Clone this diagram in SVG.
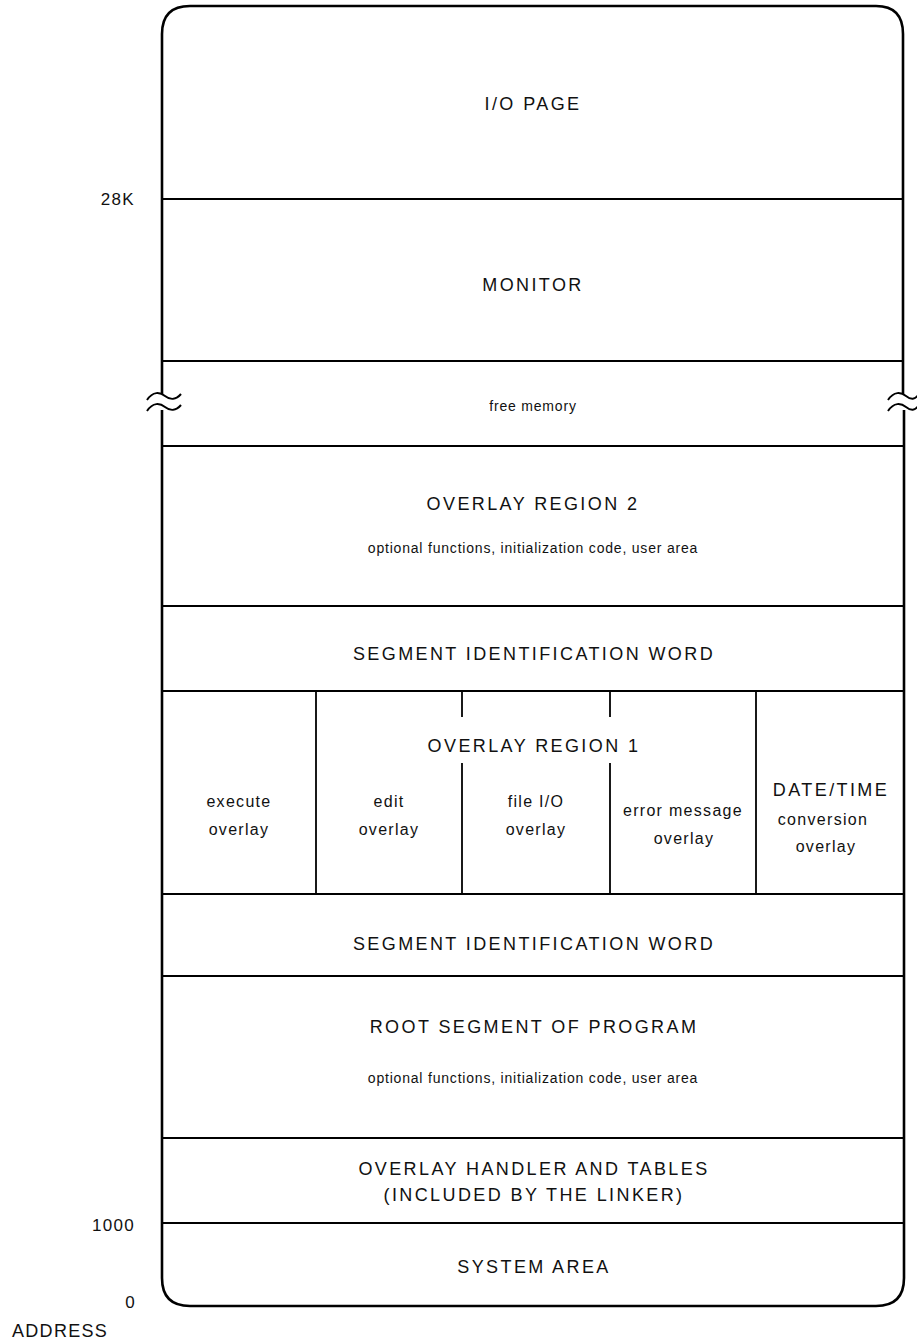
<svg xmlns="http://www.w3.org/2000/svg" width="917" height="1342" viewBox="0 0 917 1342">
<style>
.frame{fill:none;stroke:#000;stroke-width:2.6}
.ln{fill:none;stroke:#000;stroke-width:1.8}
.brk{fill:none;stroke:#000;stroke-width:2}
text{font-family:"Liberation Sans",Arial,sans-serif;fill:#111;text-anchor:middle}
.cap{font-size:18px;letter-spacing:2.4px}
.sm{font-size:14px;letter-spacing:0.8px}
.cell{font-size:16px;letter-spacing:1.3px}
.lab{font-size:17px;letter-spacing:1.3px;text-anchor:end}
</style>
<rect width="917" height="1342" fill="#fff"/>
<g id="frame">
<path class="frame" d="M162,394 V34 Q162,6 190,6 H876 Q903,6 903,34 V394"/>
<path class="frame" d="M904,410 V1278 Q904,1306 876,1306 H190 Q162,1306 162,1278 V410"/>
<path class="brk" d="M147,400 C153,391 160,392 165,396 C170,400 176,400 181,394"/>
<path class="brk" d="M147,411 C153,402 160,403 165,407 C170,411 176,411 181,405"/>
<path class="brk" d="M888,400 C894,391 901,392 906,396 C911,400 915,400 919,394"/>
<path class="brk" d="M888,411 C894,402 901,403 906,407 C911,411 915,411 919,405"/>
</g>
<g id="connectors">
<line class="ln" x1="162" y1="199" x2="903" y2="199"/>
<line class="ln" x1="162" y1="361" x2="903" y2="361"/>
<line class="ln" x1="162" y1="446" x2="904" y2="446"/>
<line class="ln" x1="162" y1="606" x2="904" y2="606"/>
<line class="ln" x1="162" y1="691" x2="904" y2="691"/>
<line class="ln" x1="162" y1="894" x2="904" y2="894"/>
<line class="ln" x1="162" y1="976" x2="904" y2="976"/>
<line class="ln" x1="162" y1="1138" x2="904" y2="1138"/>
<line class="ln" x1="162" y1="1223" x2="904" y2="1223"/>
<line class="ln" x1="316" y1="691" x2="316" y2="894"/>
<line class="ln" x1="462" y1="691" x2="462" y2="717"/>
<line class="ln" x1="462" y1="763" x2="462" y2="894"/>
<line class="ln" x1="610" y1="691" x2="610" y2="717"/>
<line class="ln" x1="610" y1="763" x2="610" y2="894"/>
<line class="ln" x1="756" y1="691" x2="756" y2="894"/>
</g>
<g id="io-page"><text class="cap" x="533" y="110">I/O PAGE</text></g>
<g id="monitor"><text class="cap" x="533" y="291">MONITOR</text></g>
<g id="free-memory"><text class="sm" x="533" y="411">free memory</text></g>
<g id="overlay-region-2">
<text class="cap" x="533" y="510">OVERLAY REGION 2</text>
<text class="sm" x="533" y="553">optional functions, initialization code, user area</text>
</g>
<g id="siw-1"><text class="cap" x="534" y="660">SEGMENT IDENTIFICATION WORD</text></g>
<g id="overlay-region-1"><text class="cap" x="534" y="752">OVERLAY REGION 1</text></g>
<g id="execute-overlay"><text class="cell" x="239" y="807">execute</text><text class="cell" x="239" y="835">overlay</text></g>
<g id="edit-overlay"><text class="cell" x="389" y="807">edit</text><text class="cell" x="389" y="835">overlay</text></g>
<g id="file-io-overlay"><text class="cell" x="536" y="807">file I/O</text><text class="cell" x="536" y="835">overlay</text></g>
<g id="error-message-overlay"><text class="cell" x="683" y="816">error message</text><text class="cell" x="684" y="844">overlay</text></g>
<g id="datetime-overlay"><text class="cap" x="831" y="796">DATE/TIME</text><text class="cell" x="823" y="825">conversion</text><text class="cell" x="826" y="852">overlay</text></g>
<g id="siw-2"><text class="cap" x="534" y="950">SEGMENT IDENTIFICATION WORD</text></g>
<g id="root-segment">
<text class="cap" x="534" y="1033">ROOT SEGMENT OF PROGRAM</text>
<text class="sm" x="533" y="1083">optional functions, initialization code, user area</text>
</g>
<g id="overlay-handler">
<text class="cap" x="534" y="1175">OVERLAY HANDLER AND TABLES</text>
<text class="cap" x="534" y="1201">(INCLUDED BY THE LINKER)</text>
</g>
<g id="system-area"><text class="cap" x="534" y="1273">SYSTEM AREA</text></g>
<g id="labels">
<text class="lab" x="135" y="205">28K</text>
<text class="lab" x="135" y="1231">1000</text>
<text class="lab" x="136" y="1308">0</text>
<text class="lab" x="12" y="1337" style="text-anchor:start;font-size:18px">ADDRESS</text>
</g>
</svg>
